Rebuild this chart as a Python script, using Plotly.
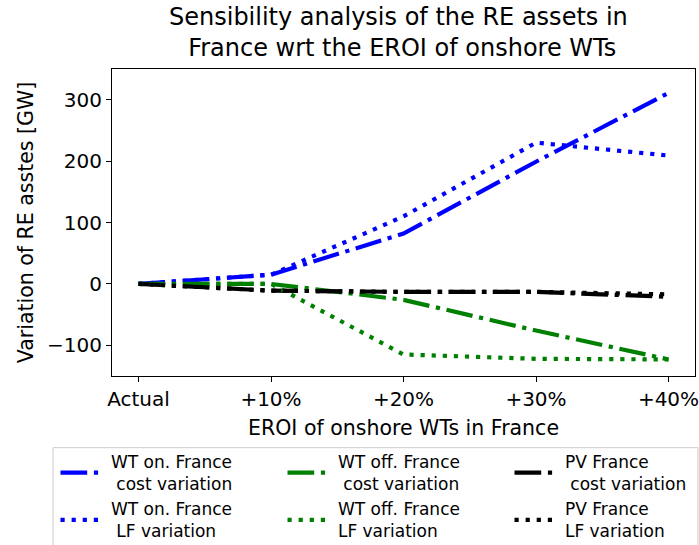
import plotly.graph_objects as go

categories = ["Actual", "+10%", "+20%", "+30%", "+40%"]
wt_on_cost = [0, 15, 82, 199, 311]
wt_on_lf = [0, 15, 110, 230, 209]
wt_off_cost = [0, 0, -26, -76, -123]
wt_off_lf = [0, 0, -115, -122, -123]
pv_cost = [0, -11, -13, -13, -21]
pv_lf = [0, -11, -13, -13, -17]

NB = "\u00a0"
DASHDOT = "26.7px,6.7px,4.2px,6.7px"
DOT = "4.2px,6.9px"

series = [
    (NB + "WT on. France<br>" + NB + NB + "cost variation", wt_on_cost, "#0000ff", DASHDOT),
    (NB + "WT off. France<br>" + NB + NB + "cost variation", wt_off_cost, "#008000", DASHDOT),
    (NB + "PV France<br>" + NB + NB + "cost variation", pv_cost, "#000000", DASHDOT),
    (NB + "WT on. France<br>" + NB + NB + "LF variation", wt_on_lf, "#0000ff", DOT),
    (NB + "WT off. France<br>" + NB + "LF variation", wt_off_lf, "#008000", DOT),
    (NB + "PV France<br>" + NB + "LF variation", pv_lf, "#000000", DOT),
]

x = list(range(len(categories)))
fig = go.Figure()
for name, vals, col, dash in series:
    fig.add_trace(go.Scatter(x=x, y=vals, mode="lines", name=name,
                             line=dict(color=col, width=4.17, dash=dash)))

# plot area in pixels: x 112..695, y 69..376
L, R, T, B = 112, 695, 69, 376
PW, PH = R - L, B - T
def px(xp):
    return (xp - L) / PW
def py(yp):
    return (B - yp) / PH

font = "DejaVu Sans"
fig.update_layout(
    width=699, height=545,
    margin=dict(l=L, r=699 - R, t=T, b=545 - B, autoexpand=False),
    paper_bgcolor="white", plot_bgcolor="white",
    font=dict(family=font, size=20, color="black"),
    xaxis=dict(range=[-0.2, 4.2], tickmode="array", tickvals=x, ticktext=categories,
               ticklabeloverflow="allow",
               showline=True, linecolor="black", linewidth=1, mirror=True, automargin=False,
               ticks="outside", ticklen=5, tickcolor="black", showgrid=False, zeroline=False,
               title=dict(text="EROI of onshore WTs in France", standoff=10,
                          font=dict(size=20.5, family=font, color="black"))),
    yaxis=dict(range=[-150, 350], tickvals=[-100, 0, 100, 200, 300],
               ticktext=["\u2212100", "0", "100", "200", "300"],
               showline=True, linecolor="black", linewidth=1, mirror=True, automargin=False,
               ticks="outside", ticklen=5, tickcolor="black", showgrid=False, zeroline=False,
               title=dict(text="Variation of RE asstes [GW]", standoff=7,
                          font=dict(size=20.5, family=font, color="black"))),
    legend=dict(orientation="h", x=px(55.5), xanchor="left",
                y=py(444), yanchor="top",
                itemwidth=40, entrywidth=172, entrywidthmode="pixels",
                bgcolor="rgba(0,0,0,0)", borderwidth=0,
                font=dict(size=17, family=font, color="black")),
    annotations=[
        dict(text="Sensibility analysis of the RE assets in<br>" + NB + "France wrt the EROI of onshore WTs",
             xref="paper", yref="paper",
             x=px(398.5), y=py(33), xanchor="center", yanchor="middle",
             showarrow=False, font=dict(size=24, family=font, color="black")),
    ],
    shapes=[dict(type="rect", xref="paper", yref="paper",
                 x0=px(53), x1=px(698),
                 y0=py(560), y1=py(447.7),
                 line=dict(color="#cccccc", width=1), fillcolor="rgba(0,0,0,0)", layer="above")],
)

fig.write_html("out.html", config={"displayModeBar": False},
               post_script="document.body.style.margin='0';")
